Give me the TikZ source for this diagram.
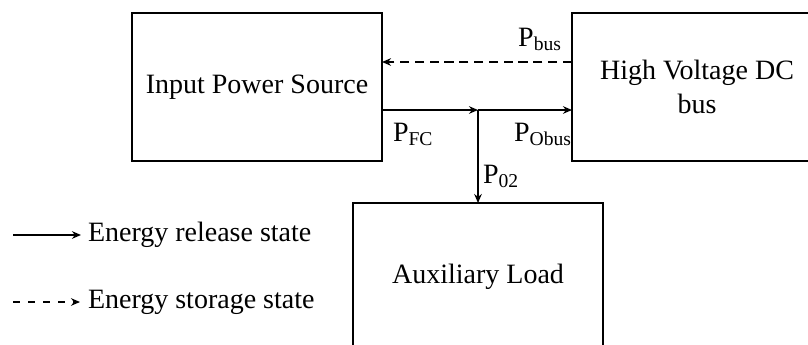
\documentclass[tikz,border=0pt]{standalone}
\usepackage{fontspec}
\setmainfont{Liberation Serif}
\usetikzlibrary{arrows.meta, positioning}

\begin{document}
\begin{tikzpicture}[>={Stealth[length=4.5pt,width=3.8pt]}, x=0.5pt, y=-0.5pt,
    font=\fontsize{14}{17}\selectfont]
  \tikzset{
    blk/.style={draw, line width=1pt, minimum width=125pt,
      minimum height=74pt, inner sep=2pt, outer sep=0pt, align=center},
    arr/.style ={->, line width=0.95pt},
    arrd/.style={->, line width=1.2pt, dash pattern=on 4.6pt off 2.8pt},
    lbl/.style={inner sep=0pt, outer sep=0pt},
  }
  \useasboundingbox (0,0) rectangle (808,344);
  % Blocks
  \node[blk] (src) at (257,87) {Input Power Source};
  \node[blk, right=95pt of src] (hv) {High Voltage DC\\bus};
  \coordinate (jn) at (478,110);
  \node[blk, below=46.5pt of jn] (aux) {Auxiliary Load};
  % Flows
  \coordinate (fo) at (src.east |- jn);
  \coordinate (hi) at (hv.west |- jn);
  \coordinate (bs) at ([yshift=12.5pt]hv.west);
  \coordinate (bt) at (src.east |- bs);
  \draw[arr]  (fo)--(jn); \draw[arr](jn)--(hi);
  \draw[arr]  (jn)--(aux);
  \draw[arrd] (bs)--(bt);
  % Labels
  \node[lbl, above left=5.5pt and 5pt of bs]  (pbus) {P\textsubscript{bus}};
  \node[lbl, below right=6.5pt and 5.5pt of fo] (pfc) {P\textsubscript{FC}};
  \node[lbl, below left=6.5pt and 0pt of hi]  (pob) {P\textsubscript{Obus}};
  \node[lbl, below right=27.5pt and 2.5pt of jn] (p02) {P\textsubscript{02}};
  % Legend
  \coordinate (l1a) at (13,235); \coordinate (l1b) at (81,235);
  \coordinate (l2a) at (13,302); \coordinate (l2b) at (80,302);
  \draw[arr]  (l1a)--(l1b);
  \draw[arrd, line width=1pt, dash pattern=on 3.5pt off 4pt] (l2a)--(l2b);
  \node[lbl, right=3.5pt of l1b] (lr) {Energy release state};
  \node[lbl, right=4pt of l2b] (ls) {Energy storage state};
\end{tikzpicture}
\end{document}
